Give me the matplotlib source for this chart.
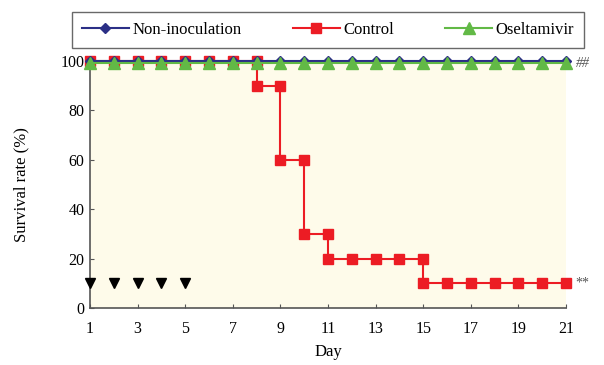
import matplotlib.pyplot as plt
from matplotlib import rcParams

rcParams['font.family'] = 'Liberation Serif'
rcParams['font.size'] = 11

days = list(range(1, 22))
non_inoc = [100] * 21
oseltamivir = [99] * 21

# control drawn as a step curve with a marker at every corner
ctrl_days = [1, 2, 3, 4, 5, 6, 7, 8, 8, 9, 9, 10, 10, 11, 11, 12, 13, 14, 15, 15,
             16, 17, 18, 19, 20, 21]
ctrl_surv = [100, 100, 100, 100, 100, 100, 100, 100, 90, 90, 60, 60, 30, 30, 20, 20, 20, 20, 20, 10,
             10, 10, 10, 10, 10, 10]

dose_days = [1, 2, 3, 4, 5]
dose_level = [10] * 5

navy = "#2B2F86"
red = "#EC1C24"
green = "#62B946"

fig = plt.figure(figsize=(6.04, 3.65), dpi=100)
ax = fig.add_axes([0.149, 0.156, 0.788, 0.677])
ax.set_facecolor("#FEFBEA")

ax.plot(days, non_inoc, color=navy, marker='D', markersize=5, lw=1.5,
        clip_on=False, zorder=4, label="Non-inoculation")
ax.plot(ctrl_days, ctrl_surv, color=red, marker='s', markersize=7, lw=1.5,
        clip_on=False, zorder=3, label="Control")
ax.plot(days, oseltamivir, color=green, marker='^', markersize=8, lw=1.5,
        clip_on=False, zorder=5, label="Oseltamivir")
ax.plot(dose_days, dose_level, 'v', color='black', markersize=7, clip_on=False, zorder=5)

ax.text(21.4, 99, "##", fontsize=10, color='#555555', va='center', style='italic')
ax.text(21.4, 10, "**", fontsize=10, color='#555555', va='center')

ax.set_xlim(1, 21)
ax.set_ylim(0, 100)
ax.set_xticks(range(1, 22, 2))
ax.set_yticks(range(0, 101, 20))
ax.tick_params(direction='in', length=3, color='#555555', labelsize=11.5)
ax.tick_params(axis='x', pad=9)
ax.tick_params(axis='y', pad=4)
ax.spines['top'].set_visible(False)
ax.spines['right'].set_visible(False)
for s in ['left', 'bottom']:
    ax.spines[s].set_color('#555555')
    ax.spines[s].set_linewidth(1.2)

ax.set_xlabel("Day", fontsize=12, labelpad=5)
ax.set_ylabel("Survival rate (%)", fontsize=12, labelpad=22)

leg = fig.legend(loc='center', bbox_to_anchor=(0.543, 0.917), ncol=3, fontsize=12,
                 frameon=True, fancybox=False, edgecolor='#444444', handlelength=2.8,
                 columnspacing=3.1, handletextpad=0.2, borderpad=0.6)
leg.get_frame().set_linewidth(1.0)

fig.savefig("out.png", dpi=100)
